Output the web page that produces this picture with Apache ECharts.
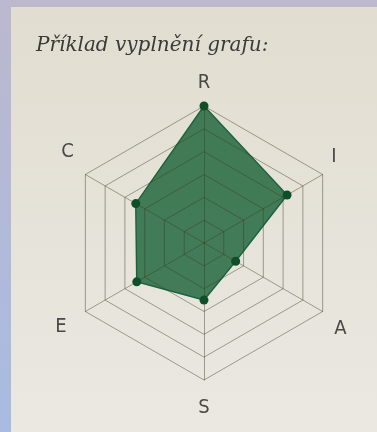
<!DOCTYPE html>
<html>
<head>
<meta charset="utf-8">
<script src="https://cdn.jsdelivr.net/npm/echarts@6/dist/echarts.min.js"></script>
<style>
html, body { margin: 0; padding: 0; }
#chart { width: 377px; height: 432px; }
</style>
</head>
<body>
<div id="chart"></div>
<script>
// osy grafu (poradi proti smeru hodinovych rucicek od vrcholu)
var axisNames = ['R', 'C', 'E', 'S', 'A', 'I'];
var axisMax = [6, 6, 6, 6, 6, 6];
var values = [6, 3.45, 3.4, 2.5, 1.6, 4.2];
var titleText = 'Příklad vyplnění grafu:';

var chart = echarts.init(document.getElementById('chart'));

var indicators = [];
for (var i = 0; i < axisNames.length; i++) {
	indicators.push({ name: axisNames[i], max: axisMax[i], min: 0 });
}

// posun popisku os (padding v rich textu)
var namePad = {
	R: [0, 0, 3, 0],
	C: [0, 3, 36, 0],
	E: [20, 10, 0, 0],
	S: [8, 0, 0, 0],
	A: [24, 0, 0, 3],
	I: [0, 0, 26, 0]
};
var rich = {};
for (var k in namePad) {
	rich[k] = {
		padding: namePad[k],
		color: '#4a4946',
		fontSize: 20,
		fontFamily: "'Liberation Sans Narrow', 'DejaVu Sans Condensed', sans-serif"
	};
}

var option = {
	backgroundColor: '#bdb9cd',
	animation: false,
	graphic: [{
		// modry okraj vlevo
		type: 'rect',
		shape: { x: 0, y: 0, width: 12, height: 432 },
		style: {
			fill: new echarts.graphic.LinearGradient(0, 0, 0, 1, [
				{ offset: 0, color: '#bcb8cf' },
				{ offset: 1, color: '#a8bbe0' }
			])
		},
		silent: true,
		z: -10
	}, {
		// papir
		type: 'rect',
		shape: { x: 11, y: 7, width: 366, height: 425 },
		style: {
			fill: new echarts.graphic.LinearGradient(0, 0, 0, 1, [
				{ offset: 0, color: '#e1ddd0' },
				{ offset: 1, color: '#ebe8e2' }
			])
		},
		silent: true,
		z: -10
	}],
	title: {
		text: titleText,
		left: 31,
		top: 31,
		textStyle: {
			fontFamily: 'DejaVu Serif',
			fontStyle: 'italic',
			fontWeight: 'normal',
			fontSize: 20,
			color: '#3b3a38'
		}
	},
	radar: {
		center: [204, 243],
		radius: 137,
		startAngle: 90,
		splitNumber: 6,
		shape: 'polygon',
		z: 3, // mrizka pres vyplen
		indicator: indicators,
		nameGap: 10,
		axisName: {
			formatter: function(name) {
				return '{' + name + '|' + name + '}';
			},
			rich: rich
		},
		axisLine: { lineStyle: { color: 'rgba(60,60,30,0.45)', width: 1 } },
		splitLine: { lineStyle: { color: 'rgba(60,60,30,0.45)', width: 1 } },
		splitArea: { show: false }
	},
	series: [{
		type: 'radar',
		z: 2,
		symbol: 'circle',
		symbolSize: 9,
		itemStyle: { color: '#0b5029' },
		lineStyle: { color: '#15603a', width: 1.5 },
		areaStyle: { color: '#23683f', opacity: 0.85 },
		data: [{ value: values }]
	}]
};
chart.setOption(option);
</script>
</body>
</html>
